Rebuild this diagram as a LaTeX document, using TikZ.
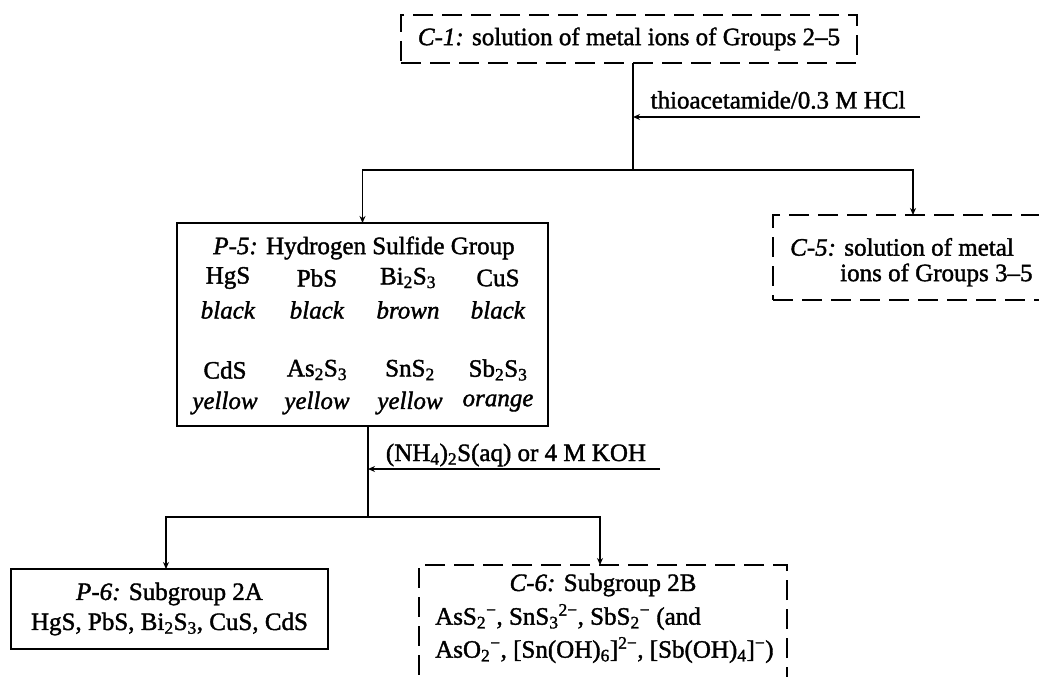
\documentclass[tikz,border=0pt]{standalone}
\usepackage{fontspec}
\setmainfont{Liberation Serif}[FakeBold=1.5]
\usetikzlibrary{arrows.meta}
\begin{document}
\begin{tikzpicture}[x=1pt,y=-1pt,
  solidbox/.style={draw, line width=1.5pt, inner sep=0pt, outer sep=0pt},
  dashbox/.style={solidbox, dash pattern=on 20pt off 9pt},
  conn/.style={line width=1.5pt},
  arr/.style={conn, -{Stealth[length=7pt,width=6pt]}},
  lbl/.style={inner sep=0pt, font=\fontsize{25}{30}\selectfont},
  every node/.style={font=\fontsize{25}{30}\selectfont}]
\useasboundingbox (0,0) rectangle (1039,677);

% boxes
\node[dashbox, minimum width=456pt, minimum height=48pt] (c1) at (629,39) {\textit{C-1:} solution of metal ions of Groups 2–5};
\node[solidbox, minimum width=371pt, minimum height=203pt] (p5) at (362.5,324.5) {};
\node[dashbox, minimum width=280pt, minimum height=85pt] (c5) at (913,257.5) {};
\node[solidbox, minimum width=317pt, minimum height=80pt, align=center] (p6) at (169.5,609)
  {\textit{P-6:} Subgroup 2A\\ HgS, PbS, Bi\textsubscript{2}S\textsubscript{3}, CuS, CdS};
\node[dashbox, minimum width=368pt, minimum height=160pt] (c6) at (603,645) {};

% P-5 contents
\node[lbl] (p5t) at (364,248) {\textit{P-5:} Hydrogen Sulfide Group};
\node[lbl] (a1) at (228,278) {HgS};
\node[lbl] (a2) at (317,278) {PbS};
\node[lbl] (a3) at (408,278) {Bi\textsubscript{2}S\textsubscript{3}};
\node[lbl] (a4) at (498,278) {CuS};
\node[lbl] (b1t) at (228,310) {\textit{black}};
\node[lbl] (b2t) at (317,310) {\textit{black}};
\node[lbl] (b3t) at (408,310) {\textit{brown}};
\node[lbl] (b4t) at (498,310) {\textit{black}};
\node[lbl] (e1) at (225,370) {CdS};
\node[lbl] (e2) at (317,370) {As\textsubscript{2}S\textsubscript{3}};
\node[lbl] (e3) at (410,370) {SnS\textsubscript{2}};
\node[lbl] (e4) at (498,370) {Sb\textsubscript{2}S\textsubscript{3}};
\node[lbl] (f1) at (225,403) {\textit{yellow}};
\node[lbl] (f2) at (317,403) {\textit{yellow}};
\node[lbl] (f3) at (410,403) {\textit{yellow}};
\node[lbl] (f4) at (498,403) {\textit{orange}};

% C-5 contents
\node[lbl, anchor=west] (c5a) at (790,247) {\textit{C-5:} solution of metal};
\node[lbl, anchor=west] (c5b) at (840,275) {ions of Groups 3–5};

% C-6 contents
\node[lbl] (c6a) at (603,585) {\textit{C-6:} Subgroup 2B};
\node[lbl, anchor=west] (c6b) at (435,617) {AsS\textsubscript{2}\textsuperscript{−}, SnS\textsubscript{3}\textsuperscript{2−}, SbS\textsubscript{2}\textsuperscript{−} (and};
\node[lbl, anchor=west] (c6c) at (435,650) {AsO\textsubscript{2}\textsuperscript{−}, [Sn(OH)\textsubscript{6}]\textsuperscript{2−}, [Sb(OH)\textsubscript{4}]\textsuperscript{−})};

% first separation
\coordinate (j1) at (633,170);
\coordinate (r1) at (920,117);
\draw[conn] ([xshift=4pt]c1.south) -- (j1);
\draw[arr] (j1) -| (p5.north);
\draw[arr] (j1) -| (c5.north);
\draw[arr] (r1) -- (r1 -| j1);
\node[lbl] (r1t) at (778,100) {thioacetamide/0.3 M HCl};

% second separation
\coordinate (j2) at (368,517);
\coordinate (r2) at (660,469);
\draw[conn] ([xshift=5.5pt]p5.south) -- (j2);
\draw[arr] (j2) -| ([xshift=-3.5pt]p6.north);
\draw[arr] (j2) -| ([xshift=-3pt]c6.north);
\draw[arr] (r2) -- (r2 -| j2);
\node[lbl] (r2t) at (516,455) {(NH\textsubscript{4})\textsubscript{2}S(aq) or 4 M KOH};
\end{tikzpicture}
\end{document}
